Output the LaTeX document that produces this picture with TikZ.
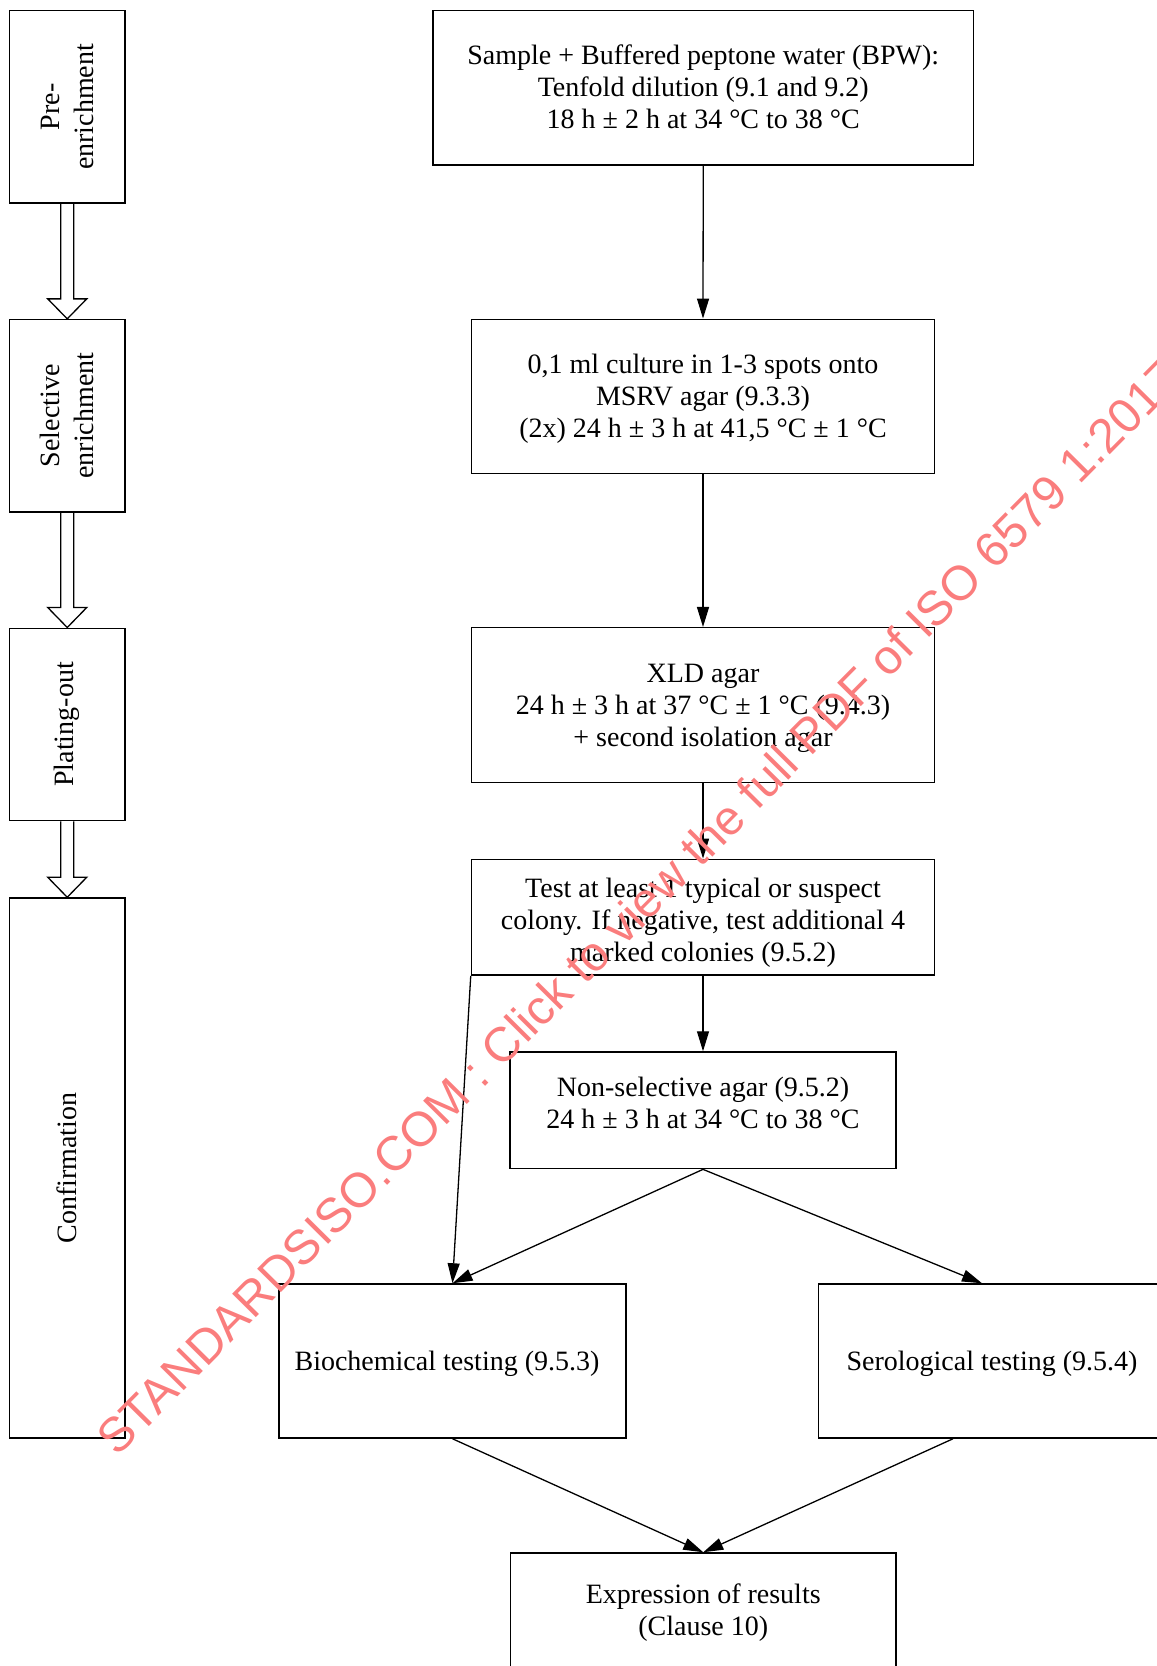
\documentclass[tikz,border=0pt]{standalone}
\usepackage{fontspec}
\setmainfont{Liberation Serif}
\newfontfamily\wmfont{Liberation Sans}
\usetikzlibrary{arrows.meta,calc}
\definecolor{wm}{RGB}{250,125,125}
% centred lines, lowered by #2 (ink only), widened on the right by #1
\newcommand{\btext}[3][0pt]{\raisebox{-#2}[\height][\depth]{\begin{tabular}{@{}c@{}}#3\end{tabular}}\hspace*{#1}}
\begin{document}
\begin{tikzpicture}[x=1pt,y=-1pt,
  box/.style={draw, line width=1.5pt, inner sep=0pt, font=\fontsize{28}{32}\selectfont},
  stage/.style={box, minimum width=115.5pt, minimum height=192.3pt},
  stagetxt/.style={rotate=90, align=center, inner sep=0pt, font=\fontsize{28}{34}\selectfont},
  arr/.style={line width=1.3pt, -{Triangle[length=20pt,width=12pt]}},
  blockarr/.style={line width=1.3pt, line join=miter}]
\useasboundingbox (0,0) rectangle (1157,1666);
\clip (0,0) rectangle (1157,1666);

% stage column
\node[stage] (pre) at (67.25,106.85) {};
\node[stage] (sel) at (67.25,415.75) {};
\node[stage] (plat) at (67.25,724.4) {};
\node[box, minimum width=115.5pt, minimum height=540pt] (conf) at (67.25,1168) {};
\node[stagetxt] (pret) at (pre.center) {Pre-\\enrichment};
\node[stagetxt] (selt) at (sel.center) {Selective\\enrichment};
\node[stagetxt] (platt) at (plat.center) {Plating-out};
\node[stagetxt] (conft) at (conf.center) {Confirmation};

\foreach \a/\b in {pre/sel, sel/plat, plat/conf}{
  \draw[blockarr] ($(\a.south)+(-6.5,0)$) -- ($(\b.north)+(-6.5,-20)$) -- ($(\b.north)+(-19.5,-20)$)
     -- (\b.north) -- ($(\b.north)+(19.5,-20)$) -- ($(\b.north)+(6.5,-20)$) -- ($(\a.south)+(6.5,0)$);
}

% main flow
\node[box, minimum width=540.5pt, minimum height=154.3pt] (b1) at (703.25,87.85)
  {\btext{2.2pt}{Sample + Buffered peptone water (BPW):\\Tenfold dilution (9.1 and 9.2)\\18 h ± 2 h at 34 °C to 38 °C}};
\node[box, minimum width=463pt, minimum height=154.4pt] (b2) at (703,396.5)
  {\btext{2.5pt}{0,1 ml culture in 1-3 spots onto\\MSRV agar (9.3.3)\\(2x) 24 h ± 3 h at 41,5 °C ± 1 °C}};
\node[box, minimum width=463pt, minimum height=155pt] (b3) at (703,705.2)
  {\btext{3pt}{XLD agar\\24 h ± 3 h at 37 °C ± 1 °C (9.4.3)\\+ second isolation agar}};
\node[box, minimum width=463pt, minimum height=115.7pt] (b4) at (703,917.2)
  {\btext{5.5pt}{Test at least 1 typical or suspect\\colony. If negative, test additional 4\\marked colonies (9.5.2)}};
\node[box, minimum width=386pt, minimum height=116.6pt] (b5) at (703,1110.3)
  {\btext{-4pt}{Non-selective agar (9.5.2)\\24 h ± 3 h at 34 °C to 38 °C}};
\node[box, minimum width=347pt, minimum height=154pt] (b6) at (452.5,1361)
  {\btext[11pt]{3pt}{Biochemical testing (9.5.3)}};
\node[box, minimum width=347pt, minimum height=154pt] (b7) at (992,1361)
  {\btext{3pt}{Serological testing (9.5.4)}};
\node[box, minimum width=385.5pt, minimum height=116pt] (b8) at (703.25,1611)
  {\btext{2pt}{Expression of results\\(Clause 10)}};

\draw[arr] (b1.south) -- (b2.north);
\draw[arr] (b2.south) -- (b3.north);
\draw[arr] (b3.south) -- (b4.north);
\draw[arr] (b4.south) -- (b5.north);
\draw[arr] (b4.south west) -- (b6.north);
\draw[arr] (b5.south) -- (b6.north);
\draw[arr] (b5.south) -- ($(b7.north)+(-10,0)$);
\draw[arr] (b6.south) -- (b8.north);
\draw[arr] ($(b7.south)+(-39,0)$) -- (b8.north);

% watermark
\node[font=\wmfont\fontsize{48.5}{50}\selectfont, text=wm, rotate=45.3, anchor=base, inner sep=0pt] (wmk) at (651,919)
  {STANDARDSISO.COM : Click to view the full PDF of ISO 6579 1:2017};
\end{tikzpicture}
\end{document}
